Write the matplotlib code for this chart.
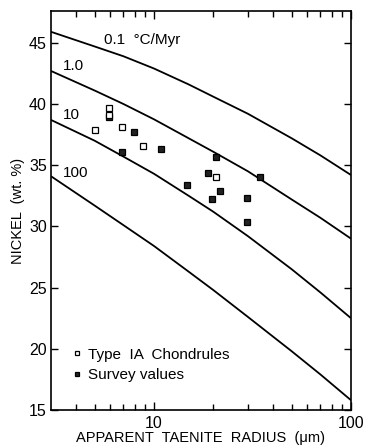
import matplotlib
matplotlib.use("Agg")
import matplotlib.pyplot as plt
from matplotlib.ticker import FixedLocator, FixedFormatter, NullFormatter

plt.rcParams['font.family'] = ['Liberation Sans', 'DejaVu Sans']

# Cooling-rate model curves: Ni content vs apparent taenite radius
radius_grid = [3, 5, 7, 10, 15, 20, 30, 50, 70, 100]
ni_rate_0_1 = [45.9, 44.7, 43.9, 42.9, 41.6, 40.6, 39.2, 37.2, 35.8, 34.2]
ni_rate_1 = [42.7, 41.1, 40.0, 38.75, 37.2, 36.1, 34.5, 32.2, 30.7, 29.0]
ni_rate_10 = [38.7, 37.0, 35.7, 34.3, 32.5, 31.2, 29.2, 26.5, 24.6, 22.5]
ni_rate_100 = [34.1, 31.7, 30.1, 28.4, 26.3, 24.8, 22.6, 19.8, 17.9, 15.8]

# Type IA chondrule measurements
chondrule_radius = [5.0, 5.9, 5.9, 6.9, 8.8, 20.6]
chondrule_ni = [37.9, 39.7, 39.1, 38.1, 36.6, 34.0]

# Survey measurements
survey_radius = [5.9, 7.9, 6.9, 10.8, 14.7, 20.6, 18.7, 21.6, 19.6, 29.6, 29.6, 34.4]
survey_ni = [38.9, 37.7, 36.1, 36.3, 33.4, 35.7, 34.4, 32.9, 32.2, 32.3, 30.4, 34.0]

y_ticks = [15, 20, 25, 30, 35, 40, 45]
x_major = [10, 100]
x_major_labels = ["10", "100"]

fig = plt.figure(figsize=(3.68, 4.47), dpi=100)
ax = fig.add_axes([51 / 368, 1 - 410 / 447, 300 / 368, 399 / 447])

for ni in (ni_rate_0_1, ni_rate_1, ni_rate_10, ni_rate_100):
    ax.plot(radius_grid, ni, color="black", lw=1.3, solid_capstyle="butt")

ax.plot(survey_radius, survey_ni, ls="none", marker="s", ms=4.6,
        mfc="#222222", mec="black", mew=0.9, label="Survey values")
ax.plot(chondrule_radius, chondrule_ni, ls="none", marker="s", ms=4.6,
        mfc="white", mec="black", mew=0.9, label="Type  IA  Chondrules")

ax.set_xscale("log")
ax.set_xlim(3, 100)
ax.set_ylim(15, 47.6)

ax.xaxis.set_major_locator(FixedLocator(x_major))
ax.xaxis.set_major_formatter(FixedFormatter(x_major_labels))
ax.xaxis.set_minor_locator(FixedLocator([4, 5, 6, 7, 8, 9, 20, 30, 40, 50, 60, 70, 80, 90]))
ax.xaxis.set_minor_formatter(NullFormatter())
ax.set_yticks(y_ticks)

ax.tick_params(which="both", direction="in", top=True, right=True,
               labelsize=11.5, width=1.0, pad=3)
ax.tick_params(which="major", length=6)
ax.tick_params(which="minor", length=4)
ax.tick_params(axis="y", which="major", length=5)
ax.tick_params(axis="x", which="major", pad=4)
for s in ax.spines.values():
    s.set_linewidth(1.2)

ax.set_xlabel("APPARENT  TAENITE  RADIUS  (\u03bcm)", fontsize=10.5, labelpad=0)
ax.set_ylabel("NICKEL  (wt. %)", fontsize=10.5, labelpad=3)

# Cooling-rate labels
ax.text(5.6, 45.2, "0.1  \u00b0C/Myr", fontsize=11, va="center", ha="left")
ax.text(3.43, 43.1, "1.0", fontsize=11, va="center", ha="left")
ax.text(3.43, 39.1, "10", fontsize=11, va="center", ha="left")
ax.text(3.43, 34.4, "100", fontsize=11, va="center", ha="left")

handles, labels = ax.get_legend_handles_labels()
leg = ax.legend(handles[::-1], labels[::-1], loc="lower left",
                bbox_to_anchor=(0.045, 0.05), frameon=False, fontsize=11,
                handlelength=0.6, handletextpad=0.45, labelspacing=0.45,
                borderpad=0, markerscale=0.75)

fig.savefig("out.png", dpi=100)
